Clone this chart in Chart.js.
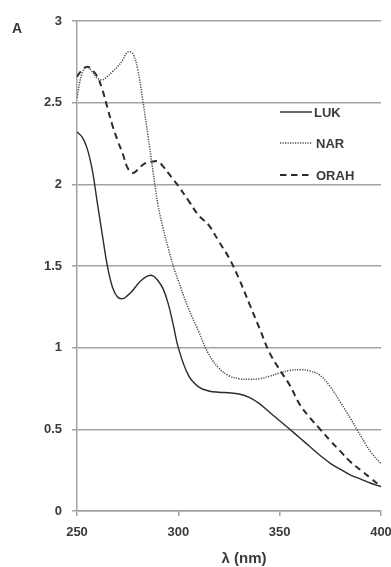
<!DOCTYPE html>
<html>
<head>
<meta charset="utf-8">
<script src="https://cdn.jsdelivr.net/npm/chart.js@4"></script>
<style>
  html, body { margin: 0; padding: 0; background: #fff; }
  #wrap { width: 391px; height: 567px; }
</style>
</head>
<body>
<div id="wrap"><canvas id="spectra"></canvas></div>
<script>
// wavelengths (nm) shared by all three spectra
var wavelengths = [250, 252.5, 255, 257.5, 260, 262.5, 265, 267.5, 270, 272.5, 275, 277.5, 280, 282.5, 285, 287.5, 290, 292.5, 295, 297.5,
                   300, 305, 310, 315, 320, 325, 330, 335, 340, 345, 350, 355, 360, 365, 370, 375, 380, 385, 390, 395, 400];

var lukValues = [2.32, 2.29, 2.22, 2.09, 1.89, 1.69, 1.50, 1.37, 1.31, 1.30, 1.32, 1.35, 1.39, 1.42, 1.44, 1.44, 1.41, 1.36, 1.27, 1.14,
                 1.00, 0.83, 0.76, 0.735, 0.727, 0.724, 0.716, 0.695, 0.657, 0.605, 0.553, 0.50, 0.447, 0.393, 0.34, 0.292, 0.255, 0.22, 0.195, 0.17, 0.15];

var narValues = [2.53, 2.68, 2.72, 2.69, 2.65, 2.64, 2.66, 2.69, 2.72, 2.76, 2.81, 2.80, 2.70, 2.51, 2.30, 2.08, 1.87, 1.73, 1.61, 1.50,
                 1.41, 1.24, 1.10, 0.96, 0.875, 0.828, 0.81, 0.806, 0.81, 0.825, 0.845, 0.86, 0.865, 0.857, 0.83, 0.76, 0.665, 0.565, 0.46, 0.36, 0.29];

var orahValues = [2.66, 2.70, 2.72, 2.70, 2.66, 2.58, 2.47, 2.36, 2.27, 2.19, 2.10, 2.07, 2.09, 2.12, 2.135, 2.14, 2.14, 2.11, 2.07, 2.03,
                  1.99, 1.90, 1.81, 1.75, 1.65, 1.55, 1.42, 1.27, 1.12, 0.97, 0.865, 0.77, 0.65, 0.57, 0.50, 0.43, 0.365, 0.30, 0.25, 0.20, 0.15];

var seriesNames = ['LUK', 'NAR', 'ORAH'];
var xTicks = [250, 300, 350, 400];
var yTicks = [0, 0.5, 1, 1.5, 2, 2.5, 3];
var xTitle = 'λ (nm)';
var panelLetter = 'A';

function toPoints(vals) {
    return wavelengths.map(function(w, i) { return { x: w, y: vals[i] }; });
}

var labelFont = { family: 'Liberation Sans', weight: 'bold', size: 13 };
var textColor = '#3a3a3a';
var gridColor = '#a3a3a3';

// legend inside the plot, top right, plus x title and panel letter
var extras = {
    id: 'extras',
    afterDraw: function(chart) {
        var ctx = chart.ctx;
        ctx.save();
        ctx.font = 'bold 13px "Liberation Sans"';
        ctx.fillStyle = textColor;
        ctx.textBaseline = 'middle';
        var rows = [112, 143, 175];
        var textX = [314, 316, 316];
        chart.data.datasets.forEach(function(ds, i) {
            ctx.strokeStyle = ds.borderColor;
            ctx.lineWidth = ds.borderWidth;
            ctx.setLineDash(ds.borderDash || []);
            ctx.beginPath();
            ctx.moveTo(280, rows[i]);
            ctx.lineTo(312, rows[i]);
            ctx.stroke();
            ctx.setLineDash([]);
            ctx.fillText(ds.label, textX[i], rows[i] + 1);
        });
        ctx.font = 'bold 15px "Liberation Sans"';
        ctx.textAlign = 'center';
        ctx.fillText(xTitle, 244, 559);
        ctx.font = 'bold 14px "Liberation Sans"';
        ctx.fillText(panelLetter, 17, 29);
        ctx.restore();
    }
};

var ctx = document.getElementById('spectra').getContext('2d');
var chart = new Chart(ctx, {
    type: 'line',
    data: {
        datasets: [{
            label: seriesNames[0],
            data: toPoints(lukValues),
            borderColor: '#2b2b2b',
            borderWidth: 1.4,
            pointRadius: 0,
            tension: 0.4
        }, {
            label: seriesNames[1],
            data: toPoints(narValues),
            borderColor: '#4a4a4a',
            borderWidth: 1.5,
            borderDash: [1.2, 1.3],
            pointRadius: 0,
            tension: 0.4
        }, {
            label: seriesNames[2],
            data: toPoints(orahValues),
            borderColor: '#2b2b2b',
            borderWidth: 2,
            borderDash: [6.5, 4.5],
            pointRadius: 0,
            tension: 0.4
        }]
    },
    options: {
        responsive: true,
        maintainAspectRatio: false,
        animation: false,
        layout: { padding: { top: 21, right: 10, left: 0, bottom: 0 } },
        plugins: { legend: { display: false }, tooltip: { enabled: false } },
        scales: {
            x: {
                type: 'linear',
                min: 250, max: 400,
                afterBuildTicks: function(s) { s.ticks = xTicks.map(function(v) { return { value: v }; }); },
                afterFit: function(s) { s.height = 56; s.paddingRight = 0; s.paddingLeft = 0; },
                ticks: { font: labelFont, color: textColor, padding: 9, maxRotation: 0,
                         callback: function(v) { return String(v); } },
                grid: { drawOnChartArea: false, tickLength: 5, color: gridColor, lineWidth: 1.5 },
                border: { color: gridColor, width: 1.5 }
            },
            y: {
                min: 0, max: 3,
                afterBuildTicks: function(s) { s.ticks = yTicks.map(function(v) { return { value: v }; }); },
                afterFit: function(s) { s.width = 77; },
                ticks: { font: labelFont, color: textColor, padding: 10,
                         callback: function(v) { return String(v); } },
                grid: { tickLength: 5, color: gridColor, lineWidth: 1.5 },
                border: { color: gridColor, width: 1.5 }
            }
        }
    },
    plugins: [extras]
});
</script>
</body>
</html>
